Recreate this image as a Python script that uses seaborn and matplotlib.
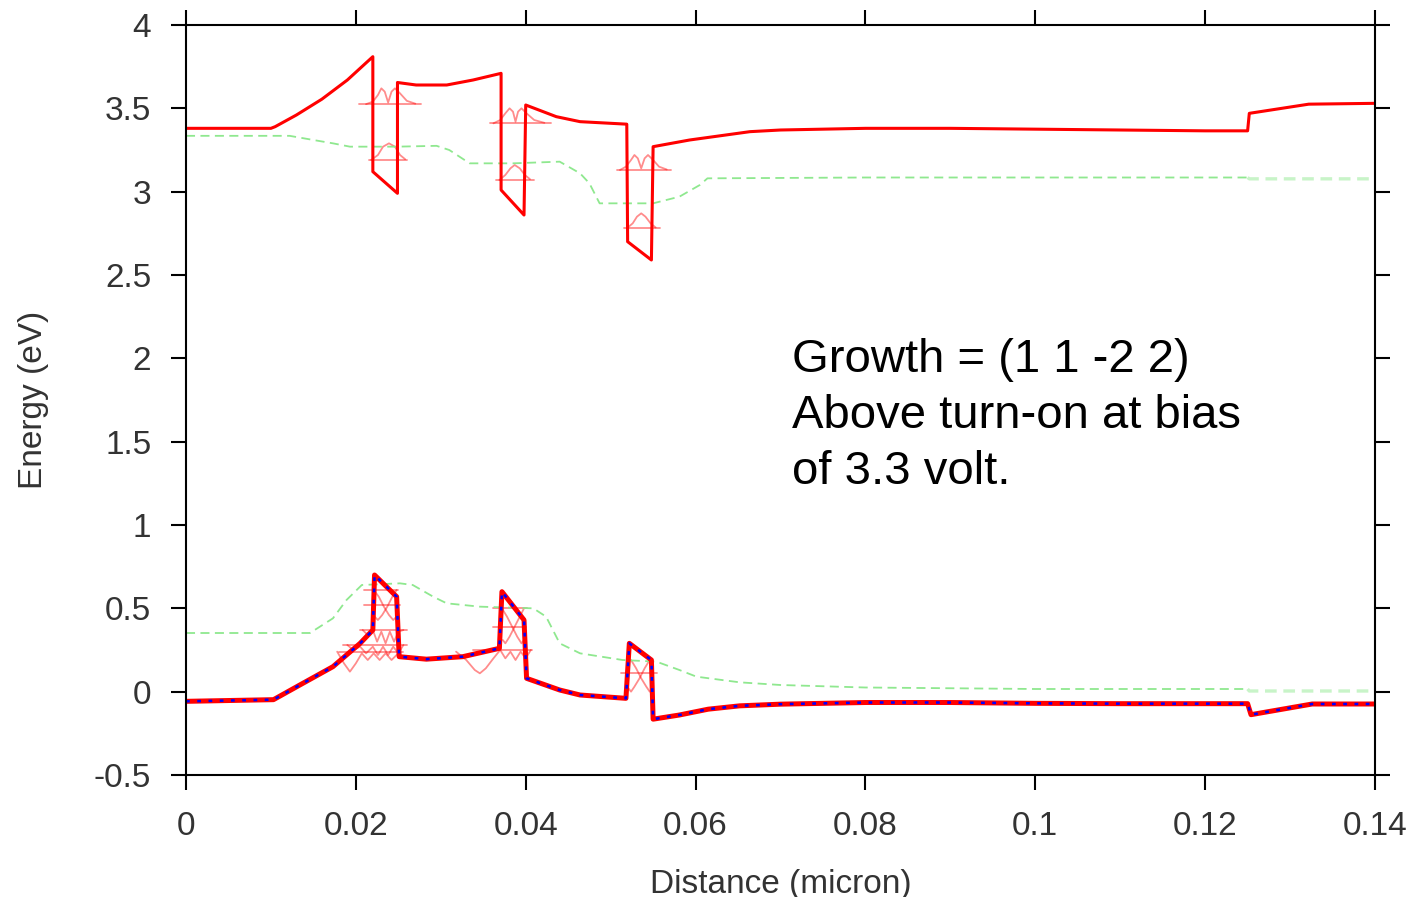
import numpy as np
import pandas as pd
import matplotlib
matplotlib.use("Agg")
import matplotlib.pyplot as plt
from matplotlib.ticker import FormatStrFormatter
import seaborn as sns

# conduction band (eV) vs distance (micron)
cb_x = [0, 0.0100, 0.0105, 0.013, 0.016, 0.019, 0.0220, 0.0220, 0.0249, 0.0249, 0.0271,
        0.0307, 0.0338, 0.0371, 0.0371, 0.0398, 0.0400, 0.0436, 0.0464, 0.0519, 0.0520,
        0.0548, 0.0550, 0.0593, 0.0664, 0.070, 0.080, 0.090, 0.100, 0.110, 0.120,
        0.1250, 0.1252, 0.1322, 0.140]
cb_y = [3.38, 3.38, 3.39, 3.46, 3.555, 3.67, 3.81, 3.12, 2.99, 3.655, 3.64,
        3.64, 3.67, 3.71, 3.01, 2.86, 3.52, 3.45, 3.42, 3.405, 2.70,
        2.59, 3.27, 3.31, 3.36, 3.37, 3.38, 3.38, 3.375, 3.37, 3.365,
        3.365, 3.47, 3.525, 3.53]

# valence band
vb_x = [0, 0.0103, 0.0134, 0.0173, 0.0205, 0.0220, 0.0222, 0.0248, 0.0251, 0.0283,
        0.0326, 0.0369, 0.0372, 0.0398, 0.0401, 0.0440, 0.0464, 0.0518, 0.0522, 0.0548,
        0.0550, 0.0581, 0.0615, 0.0652, 0.070, 0.080, 0.090, 0.100, 0.110, 0.1250, 0.1254,
        0.1326, 0.140]
vb_y = [-0.058, -0.048, 0.04, 0.15, 0.29, 0.37, 0.70, 0.57, 0.21, 0.195,
        0.21, 0.26, 0.60, 0.43, 0.08, 0.01, -0.02, -0.04, 0.29, 0.19,
        -0.165, -0.14, -0.105, -0.085, -0.075, -0.065, -0.065, -0.07, -0.072, -0.072, -0.138,
        -0.074, -0.074]

# quasi fermi levels (green dashed)
fn_x = [0, 0.0122, 0.0150, 0.0173, 0.0193, 0.0248, 0.0295, 0.0310, 0.0334, 0.0385,
        0.0440, 0.0464, 0.0475, 0.0487, 0.0550, 0.0581, 0.0605, 0.0614, 0.080, 0.100,
        0.125, 0.1252, 0.140]
fn_y = [3.335, 3.335, 3.31, 3.29, 3.27, 3.27, 3.275, 3.25, 3.17, 3.17,
        3.18, 3.11, 3.05, 2.93, 2.93, 2.97, 3.04, 3.08, 3.085, 3.085,
        3.085, 3.077, 3.077]
fp_x = [0, 0.0146, 0.0173, 0.0189, 0.0207, 0.0252, 0.0267, 0.0291, 0.0307, 0.0346,
        0.0409, 0.0424, 0.0440, 0.0464, 0.0514, 0.0554, 0.0581, 0.0601, 0.0652, 0.070,
        0.080, 0.100, 0.125, 0.1252, 0.140]
fp_y = [0.352, 0.352, 0.44, 0.55, 0.64, 0.65, 0.64, 0.57, 0.53, 0.51,
        0.50, 0.45, 0.29, 0.23, 0.19, 0.18, 0.13, 0.09, 0.056, 0.04,
        0.025, 0.016, 0.016, 0.004, 0.004]

# confined electron levels + wavefunctions
el_E = [3.525, 3.19, 3.41, 3.07, 3.13, 2.78]
el_x0 = [0.0204, 0.0215, 0.0358, 0.0365, 0.0507, 0.0516]
el_x1 = [0.0277, 0.0260, 0.0430, 0.0410, 0.0571, 0.0558]
el_wx = [[0.0212, 0.0220, 0.0226, 0.0230, 0.0234, 0.0238, 0.0242, 0.0246, 0.0252, 0.0260, 0.0270],
         [0.0218, 0.0226, 0.0232, 0.0239, 0.0246, 0.0252, 0.0258],
         [0.0362, 0.0370, 0.0376, 0.0381, 0.0385, 0.0388, 0.0391, 0.0395, 0.0401, 0.0410, 0.0422],
         [0.0369, 0.0376, 0.0382, 0.0387, 0.0393, 0.0399, 0.0405],
         [0.0511, 0.0518, 0.0524, 0.0528, 0.0532, 0.0536, 0.0540, 0.0544, 0.0550, 0.0557, 0.0566],
         [0.0519, 0.0526, 0.0531, 0.0536, 0.0541, 0.0547, 0.0553]]
el_wy = [[3.525, 3.54, 3.58, 3.62, 3.60, 3.535, 3.60, 3.62, 3.59, 3.545, 3.528],
         [3.19, 3.22, 3.27, 3.29, 3.27, 3.22, 3.195],
         [3.41, 3.43, 3.47, 3.50, 3.48, 3.42, 3.48, 3.50, 3.47, 3.43, 3.413],
         [3.07, 3.10, 3.14, 3.16, 3.14, 3.10, 3.075],
         [3.13, 3.15, 3.19, 3.22, 3.20, 3.14, 3.20, 3.22, 3.19, 3.15, 3.133],
         [2.78, 2.81, 2.85, 2.87, 2.85, 2.81, 2.785]]

# confined hole levels + wavefunctions
hl_E = [0.61, 0.52, 0.37, 0.28, 0.24, 0.50, 0.39, 0.25, 0.11]
hl_x0 = [0.0210, 0.0210, 0.0205, 0.0185, 0.0180, 0.0362, 0.0362, 0.0338, 0.0512]
hl_x1 = [0.0250, 0.0252, 0.0260, 0.0260, 0.0256, 0.0402, 0.0400, 0.0407, 0.0555]
hl_wx = [[0.0221, 0.0227, 0.0233, 0.0239, 0.0244, 0.0248],
         [0.0248, 0.0243, 0.0237, 0.0231, 0.0226, 0.0222],
         [0.0208, 0.0214, 0.0220, 0.0225, 0.0230, 0.0235, 0.0240, 0.0245, 0.0250, 0.0256],
         [0.0190, 0.0197, 0.0205, 0.0212, 0.0220, 0.0226, 0.0232, 0.0238, 0.0244, 0.0250, 0.0256],
         [0.0178, 0.0186, 0.0193, 0.0200, 0.0207, 0.0214, 0.0221, 0.0228, 0.0235, 0.0242, 0.0250],
         [0.0372, 0.0378, 0.0384, 0.0390, 0.0395, 0.0398],
         [0.0398, 0.0393, 0.0387, 0.0381, 0.0376, 0.0373],
         [0.0318, 0.0330, 0.0340, 0.0346, 0.0353, 0.0362, 0.0370, 0.0376, 0.0382, 0.0388, 0.0394, 0.0400, 0.0406],
         [0.0524, 0.0530, 0.0536, 0.0542, 0.0546, 0.0549],
         [0.0546, 0.0540, 0.0534, 0.0528, 0.0524, 0.0521]]
hl_wy = [[0.61, 0.57, 0.51, 0.46, 0.43, 0.45],
         [0.61, 0.57, 0.51, 0.46, 0.43, 0.45],
         [0.37, 0.34, 0.37, 0.30, 0.36, 0.29, 0.36, 0.30, 0.36, 0.37],
         [0.28, 0.25, 0.27, 0.23, 0.27, 0.22, 0.27, 0.22, 0.27, 0.23, 0.28],
         [0.24, 0.17, 0.12, 0.17, 0.23, 0.19, 0.23, 0.19, 0.23, 0.19, 0.23],
         [0.50, 0.45, 0.39, 0.33, 0.29, 0.31],
         [0.50, 0.45, 0.39, 0.33, 0.29, 0.31],
         [0.24, 0.19, 0.13, 0.11, 0.14, 0.20, 0.25, 0.20, 0.24, 0.19, 0.24, 0.20, 0.25],
         [0.19, 0.14, 0.08, 0.03, 0.00, 0.02],
         [0.19, 0.14, 0.08, 0.03, 0.00, 0.02]]

note = "Growth = (1 1 -2 2)\nAbove turn-on at bias\nof 3.3 volt."

sns.set_theme(style="ticks")
plt.rcParams['font.family'] = ['Liberation Sans', 'DejaVu Sans']

fig = plt.figure(figsize=(14.16, 8.97), dpi=100)
ax = fig.add_axes([186 / 1416, 122 / 897, 1189 / 1416, 750 / 897])

thin = dict(color="red", alpha=0.45, lw=1.3, sort=False, estimator=None, ax=ax, legend=False)

# levels and wavefunctions (drawn first, under the bands)
for E, a, b in zip(el_E + hl_E, el_x0 + hl_x0, el_x1 + hl_x1):
    sns.lineplot(x=[a, b], y=[E, E], **thin)
for wx, wy in zip(el_wx + hl_wx, el_wy + hl_wy):
    sns.lineplot(x=wx, y=wy, **thin)

# quasi fermi levels
for qx, qy in [(fn_x, fn_y), (fp_x, fp_y)]:
    q = pd.DataFrame({"x": qx, "y": qy})
    sns.lineplot(data=q[q.x <= 0.125], x="x", y="y", color="#8fe88f", lw=1.3,
                 linestyle=(0, (5, 3)), sort=False, estimator=None, ax=ax)
    sns.lineplot(data=q[q.x >= 0.125], x="x", y="y", color="#c8f4c8", lw=2.4,
                 linestyle=(0, (3.5, 2)), sort=False, estimator=None, ax=ax)

sns.lineplot(x=cb_x, y=cb_y, color="red", lw=2.2, sort=False, estimator=None, ax=ax)
sns.lineplot(x=vb_x, y=vb_y, color="red", lw=3.6, sort=False, estimator=None, ax=ax)
sns.lineplot(x=vb_x, y=vb_y, color="blue", lw=1.8, linestyle=(0, (1.5, 3)),
             sort=False, estimator=None, ax=ax)

ax.text(0.5097, 0.582, note, transform=ax.transAxes, fontsize=34, va="top", ha="left",
        color="black", linespacing=1.34)

ax.set_xlim(0, 0.14)
ax.set_ylim(-0.5, 4)
ax.set_xticks(np.arange(0, 0.1401, 0.02))
ax.set_yticks(np.arange(-0.5, 4.01, 0.5))
ax.xaxis.set_major_formatter(FormatStrFormatter("%g"))
ax.yaxis.set_major_formatter(FormatStrFormatter("%g"))
ax.set_xlabel("Distance (micron)", fontsize=24, color="#333333", labelpad=19)
ax.set_ylabel("Energy (eV)", fontsize=24, color="#333333", labelpad=32)
ax.tick_params(axis="both", which="major", direction="out", length=11, width=1.5,
               top=True, right=True, labelsize=24, labelcolor="#333333", color="black")
ax.tick_params(axis="x", pad=15)
ax.tick_params(axis="y", pad=14)
for s in ax.spines.values():
    s.set_visible(True)
    s.set_linewidth(1.5)
    s.set_color("black")

fig.savefig("out.png", dpi=100)
